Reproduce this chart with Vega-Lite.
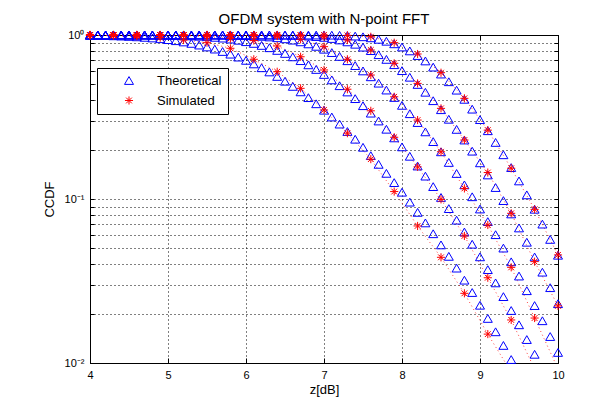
{
"$schema":"https://vega.github.io/schema/vega-lite/v6.json",
"width":468,"height":328,
"autosize":"none",
"padding":{"left":90,"top":35,"right":55,"bottom":44},
"background":"white",
"title":{"text":"OFDM system with N-point FFT","fontSize":15,"font":"Liberation Sans","fontWeight":"normal","color":"#000","offset":-10,"baseline":"alphabetic"},
"config":{
"view":{"stroke":"#000","strokeWidth":1},
"axis":{"domainColor":"#000","tickColor":"#000","labelColor":"#000","titleColor":"#000","labelFont":"Liberation Sans","titleFont":"Liberation Sans","labelFontSize":11,"titleFontSize":13,"titleFontWeight":"normal","gridColor":"#000","gridDash":[1,3],"gridOpacity":1,"gridWidth":1,"labelOverlap":false,"labelFlush":false},
"legend":{"labelFont":"Liberation Sans","labelFontSize":13,"labelColor":"#000"}
},
"data":{"values":[
{"t":"Theoretical","n":64,"x":4.0,"y":0.9955},{"t":"Theoretical","n":64,"x":4.1,"y":0.9939},{"t":"Theoretical","n":64,"x":4.2,"y":0.9917},{"t":"Theoretical","n":64,"x":4.3,"y":0.9888},{"t":"Theoretical","n":64,"x":4.4,"y":0.9851},{"t":"Theoretical","n":64,"x":4.5,"y":0.9805},{"t":"Theoretical","n":64,"x":4.6,"y":0.9748},{"t":"Theoretical","n":64,"x":4.7,"y":0.9678},{"t":"Theoretical","n":64,"x":4.8,"y":0.9593},{"t":"Theoretical","n":64,"x":4.9,"y":0.9492},
{"t":"Theoretical","n":64,"x":5.0,"y":0.9372},{"t":"Theoretical","n":64,"x":5.1,"y":0.9233},{"t":"Theoretical","n":64,"x":5.2,"y":0.9072},{"t":"Theoretical","n":64,"x":5.3,"y":0.889},{"t":"Theoretical","n":64,"x":5.4,"y":0.8685},{"t":"Theoretical","n":64,"x":5.5,"y":0.8457},{"t":"Theoretical","n":64,"x":5.6,"y":0.8207},{"t":"Theoretical","n":64,"x":5.7,"y":0.7935},{"t":"Theoretical","n":64,"x":5.8,"y":0.7643},{"t":"Theoretical","n":64,"x":5.9,"y":0.7333},
{"t":"Theoretical","n":64,"x":6.0,"y":0.7006},{"t":"Theoretical","n":64,"x":6.1,"y":0.6665},{"t":"Theoretical","n":64,"x":6.2,"y":0.6314},{"t":"Theoretical","n":64,"x":6.3,"y":0.5955},{"t":"Theoretical","n":64,"x":6.4,"y":0.559},{"t":"Theoretical","n":64,"x":6.5,"y":0.5225},{"t":"Theoretical","n":64,"x":6.6,"y":0.4861},{"t":"Theoretical","n":64,"x":6.7,"y":0.4502},{"t":"Theoretical","n":64,"x":6.8,"y":0.415},{"t":"Theoretical","n":64,"x":6.9,"y":0.3808},
{"t":"Theoretical","n":64,"x":7.0,"y":0.3479},{"t":"Theoretical","n":64,"x":7.1,"y":0.3163},{"t":"Theoretical","n":64,"x":7.2,"y":0.2863},{"t":"Theoretical","n":64,"x":7.3,"y":0.258},{"t":"Theoretical","n":64,"x":7.4,"y":0.2315},{"t":"Theoretical","n":64,"x":7.5,"y":0.2067},{"t":"Theoretical","n":64,"x":7.6,"y":0.1838},{"t":"Theoretical","n":64,"x":7.7,"y":0.1627},{"t":"Theoretical","n":64,"x":7.8,"y":0.1434},{"t":"Theoretical","n":64,"x":7.9,"y":0.1259},
{"t":"Theoretical","n":64,"x":8.0,"y":0.11},{"t":"Theoretical","n":64,"x":8.1,"y":0.0957},{"t":"Theoretical","n":64,"x":8.2,"y":0.0829},{"t":"Theoretical","n":64,"x":8.3,"y":0.0715},{"t":"Theoretical","n":64,"x":8.4,"y":0.0614},{"t":"Theoretical","n":64,"x":8.5,"y":0.0525},{"t":"Theoretical","n":64,"x":8.6,"y":0.0447},{"t":"Theoretical","n":64,"x":8.7,"y":0.0379},{"t":"Theoretical","n":64,"x":8.8,"y":0.032},{"t":"Theoretical","n":64,"x":8.9,"y":0.0269},
{"t":"Theoretical","n":64,"x":9.0,"y":0.0225},{"t":"Theoretical","n":64,"x":9.1,"y":0.0187},{"t":"Theoretical","n":64,"x":9.2,"y":0.0155},{"t":"Theoretical","n":64,"x":9.3,"y":0.0128},{"t":"Theoretical","n":64,"x":9.4,"y":0.0105},
{"t":"Theoretical","n":128,"x":4.0,"y":1},{"t":"Theoretical","n":128,"x":4.1,"y":1},{"t":"Theoretical","n":128,"x":4.2,"y":0.9999},{"t":"Theoretical","n":128,"x":4.3,"y":0.9999},{"t":"Theoretical","n":128,"x":4.4,"y":0.9998},{"t":"Theoretical","n":128,"x":4.5,"y":0.9996},{"t":"Theoretical","n":128,"x":4.6,"y":0.9994},{"t":"Theoretical","n":128,"x":4.7,"y":0.999},{"t":"Theoretical","n":128,"x":4.8,"y":0.9983},{"t":"Theoretical","n":128,"x":4.9,"y":0.9974},
{"t":"Theoretical","n":128,"x":5.0,"y":0.9961},{"t":"Theoretical","n":128,"x":5.1,"y":0.9941},{"t":"Theoretical","n":128,"x":5.2,"y":0.9914},{"t":"Theoretical","n":128,"x":5.3,"y":0.9877},{"t":"Theoretical","n":128,"x":5.4,"y":0.9827},{"t":"Theoretical","n":128,"x":5.5,"y":0.9762},{"t":"Theoretical","n":128,"x":5.6,"y":0.9678},{"t":"Theoretical","n":128,"x":5.7,"y":0.9574},{"t":"Theoretical","n":128,"x":5.8,"y":0.9445},{"t":"Theoretical","n":128,"x":5.9,"y":0.9289},
{"t":"Theoretical","n":128,"x":6.0,"y":0.9103},{"t":"Theoretical","n":128,"x":6.1,"y":0.8888},{"t":"Theoretical","n":128,"x":6.2,"y":0.8641},{"t":"Theoretical","n":128,"x":6.3,"y":0.8363},{"t":"Theoretical","n":128,"x":6.4,"y":0.8055},{"t":"Theoretical","n":128,"x":6.5,"y":0.772},{"t":"Theoretical","n":128,"x":6.6,"y":0.7359},{"t":"Theoretical","n":128,"x":6.7,"y":0.6977},{"t":"Theoretical","n":128,"x":6.8,"y":0.6578},{"t":"Theoretical","n":128,"x":6.9,"y":0.6166},
{"t":"Theoretical","n":128,"x":7.0,"y":0.5747},{"t":"Theoretical","n":128,"x":7.1,"y":0.5326},{"t":"Theoretical","n":128,"x":7.2,"y":0.4907},{"t":"Theoretical","n":128,"x":7.3,"y":0.4494},{"t":"Theoretical","n":128,"x":7.4,"y":0.4093},{"t":"Theoretical","n":128,"x":7.5,"y":0.3707},{"t":"Theoretical","n":128,"x":7.6,"y":0.3338},{"t":"Theoretical","n":128,"x":7.7,"y":0.299},{"t":"Theoretical","n":128,"x":7.8,"y":0.2663},{"t":"Theoretical","n":128,"x":7.9,"y":0.2359},
{"t":"Theoretical","n":128,"x":8.0,"y":0.2079},{"t":"Theoretical","n":128,"x":8.1,"y":0.1822},{"t":"Theoretical","n":128,"x":8.2,"y":0.1589},{"t":"Theoretical","n":128,"x":8.3,"y":0.1379},{"t":"Theoretical","n":128,"x":8.4,"y":0.119},{"t":"Theoretical","n":128,"x":8.5,"y":0.1022},{"t":"Theoretical","n":128,"x":8.6,"y":0.0874},{"t":"Theoretical","n":128,"x":8.7,"y":0.0743},{"t":"Theoretical","n":128,"x":8.8,"y":0.0629},{"t":"Theoretical","n":128,"x":8.9,"y":0.053},
{"t":"Theoretical","n":128,"x":9.0,"y":0.0444},{"t":"Theoretical","n":128,"x":9.1,"y":0.0371},{"t":"Theoretical","n":128,"x":9.2,"y":0.0308},{"t":"Theoretical","n":128,"x":9.3,"y":0.0254},{"t":"Theoretical","n":128,"x":9.4,"y":0.0209},{"t":"Theoretical","n":128,"x":9.5,"y":0.0171},{"t":"Theoretical","n":128,"x":9.6,"y":0.0139},{"t":"Theoretical","n":128,"x":9.7,"y":0.0113},
{"t":"Theoretical","n":256,"x":4.0,"y":1},{"t":"Theoretical","n":256,"x":4.1,"y":1},{"t":"Theoretical","n":256,"x":4.2,"y":1},{"t":"Theoretical","n":256,"x":4.3,"y":1},{"t":"Theoretical","n":256,"x":4.4,"y":1},{"t":"Theoretical","n":256,"x":4.5,"y":1},{"t":"Theoretical","n":256,"x":4.6,"y":1},{"t":"Theoretical","n":256,"x":4.7,"y":1},{"t":"Theoretical","n":256,"x":4.8,"y":1},{"t":"Theoretical","n":256,"x":4.9,"y":1},
{"t":"Theoretical","n":256,"x":5.0,"y":1},{"t":"Theoretical","n":256,"x":5.1,"y":1},{"t":"Theoretical","n":256,"x":5.2,"y":0.9999},{"t":"Theoretical","n":256,"x":5.3,"y":0.9998},{"t":"Theoretical","n":256,"x":5.4,"y":0.9997},{"t":"Theoretical","n":256,"x":5.5,"y":0.9994},{"t":"Theoretical","n":256,"x":5.6,"y":0.999},{"t":"Theoretical","n":256,"x":5.7,"y":0.9982},{"t":"Theoretical","n":256,"x":5.8,"y":0.9969},{"t":"Theoretical","n":256,"x":5.9,"y":0.9949},
{"t":"Theoretical","n":256,"x":6.0,"y":0.992},{"t":"Theoretical","n":256,"x":6.1,"y":0.9876},{"t":"Theoretical","n":256,"x":6.2,"y":0.9815},{"t":"Theoretical","n":256,"x":6.3,"y":0.9732},{"t":"Theoretical","n":256,"x":6.4,"y":0.9622},{"t":"Theoretical","n":256,"x":6.5,"y":0.948},{"t":"Theoretical","n":256,"x":6.6,"y":0.9303},{"t":"Theoretical","n":256,"x":6.7,"y":0.9086},{"t":"Theoretical","n":256,"x":6.8,"y":0.8829},{"t":"Theoretical","n":256,"x":6.9,"y":0.853},
{"t":"Theoretical","n":256,"x":7.0,"y":0.8191},{"t":"Theoretical","n":256,"x":7.1,"y":0.7815},{"t":"Theoretical","n":256,"x":7.2,"y":0.7406},{"t":"Theoretical","n":256,"x":7.3,"y":0.6969},{"t":"Theoretical","n":256,"x":7.4,"y":0.6511},{"t":"Theoretical","n":256,"x":7.5,"y":0.604},{"t":"Theoretical","n":256,"x":7.6,"y":0.5562},{"t":"Theoretical","n":256,"x":7.7,"y":0.5086},{"t":"Theoretical","n":256,"x":7.8,"y":0.4617},{"t":"Theoretical","n":256,"x":7.9,"y":0.4161},
{"t":"Theoretical","n":256,"x":8.0,"y":0.3725},{"t":"Theoretical","n":256,"x":8.1,"y":0.3312},{"t":"Theoretical","n":256,"x":8.2,"y":0.2926},{"t":"Theoretical","n":256,"x":8.3,"y":0.2567},{"t":"Theoretical","n":256,"x":8.4,"y":0.2239},{"t":"Theoretical","n":256,"x":8.5,"y":0.194},{"t":"Theoretical","n":256,"x":8.6,"y":0.1671},{"t":"Theoretical","n":256,"x":8.7,"y":0.1431},{"t":"Theoretical","n":256,"x":8.8,"y":0.1219},{"t":"Theoretical","n":256,"x":8.9,"y":0.1032},
{"t":"Theoretical","n":256,"x":9.0,"y":0.0869},{"t":"Theoretical","n":256,"x":9.1,"y":0.0728},{"t":"Theoretical","n":256,"x":9.2,"y":0.0606},{"t":"Theoretical","n":256,"x":9.3,"y":0.0502},{"t":"Theoretical","n":256,"x":9.4,"y":0.0414},{"t":"Theoretical","n":256,"x":9.5,"y":0.0339},{"t":"Theoretical","n":256,"x":9.6,"y":0.0276},{"t":"Theoretical","n":256,"x":9.7,"y":0.0224},{"t":"Theoretical","n":256,"x":9.8,"y":0.0181},{"t":"Theoretical","n":256,"x":9.9,"y":0.0145},{"t":"Theoretical","n":256,"x":10.0,"y":0.0116},
{"t":"Theoretical","n":512,"x":4.0,"y":1},{"t":"Theoretical","n":512,"x":4.1,"y":1},{"t":"Theoretical","n":512,"x":4.2,"y":1},{"t":"Theoretical","n":512,"x":4.3,"y":1},{"t":"Theoretical","n":512,"x":4.4,"y":1},{"t":"Theoretical","n":512,"x":4.5,"y":1},{"t":"Theoretical","n":512,"x":4.6,"y":1},{"t":"Theoretical","n":512,"x":4.7,"y":1},{"t":"Theoretical","n":512,"x":4.8,"y":1},{"t":"Theoretical","n":512,"x":4.9,"y":1},
{"t":"Theoretical","n":512,"x":5.0,"y":1},{"t":"Theoretical","n":512,"x":5.1,"y":1},{"t":"Theoretical","n":512,"x":5.2,"y":1},{"t":"Theoretical","n":512,"x":5.3,"y":1},{"t":"Theoretical","n":512,"x":5.4,"y":1},{"t":"Theoretical","n":512,"x":5.5,"y":1},{"t":"Theoretical","n":512,"x":5.6,"y":1},{"t":"Theoretical","n":512,"x":5.7,"y":1},{"t":"Theoretical","n":512,"x":5.8,"y":1},{"t":"Theoretical","n":512,"x":5.9,"y":1},
{"t":"Theoretical","n":512,"x":6.0,"y":0.9999},{"t":"Theoretical","n":512,"x":6.1,"y":0.9998},{"t":"Theoretical","n":512,"x":6.2,"y":0.9997},{"t":"Theoretical","n":512,"x":6.3,"y":0.9993},{"t":"Theoretical","n":512,"x":6.4,"y":0.9986},{"t":"Theoretical","n":512,"x":6.5,"y":0.9973},{"t":"Theoretical","n":512,"x":6.6,"y":0.9951},{"t":"Theoretical","n":512,"x":6.7,"y":0.9916},{"t":"Theoretical","n":512,"x":6.8,"y":0.9863},{"t":"Theoretical","n":512,"x":6.9,"y":0.9784},
{"t":"Theoretical","n":512,"x":7.0,"y":0.9673},{"t":"Theoretical","n":512,"x":7.1,"y":0.9523},{"t":"Theoretical","n":512,"x":7.2,"y":0.9327},{"t":"Theoretical","n":512,"x":7.3,"y":0.9081},{"t":"Theoretical","n":512,"x":7.4,"y":0.8783},{"t":"Theoretical","n":512,"x":7.5,"y":0.8432},{"t":"Theoretical","n":512,"x":7.6,"y":0.803},{"t":"Theoretical","n":512,"x":7.7,"y":0.7585},{"t":"Theoretical","n":512,"x":7.8,"y":0.7102},{"t":"Theoretical","n":512,"x":7.9,"y":0.6591},
{"t":"Theoretical","n":512,"x":8.0,"y":0.6063},{"t":"Theoretical","n":512,"x":8.1,"y":0.5527},{"t":"Theoretical","n":512,"x":8.2,"y":0.4995},{"t":"Theoretical","n":512,"x":8.3,"y":0.4476},{"t":"Theoretical","n":512,"x":8.4,"y":0.3976},{"t":"Theoretical","n":512,"x":8.5,"y":0.3504},{"t":"Theoretical","n":512,"x":8.6,"y":0.3063},{"t":"Theoretical","n":512,"x":8.7,"y":0.2658},{"t":"Theoretical","n":512,"x":8.8,"y":0.2289},{"t":"Theoretical","n":512,"x":8.9,"y":0.1957},
{"t":"Theoretical","n":512,"x":9.0,"y":0.1662},{"t":"Theoretical","n":512,"x":9.1,"y":0.1402},{"t":"Theoretical","n":512,"x":9.2,"y":0.1175},{"t":"Theoretical","n":512,"x":9.3,"y":0.0978},{"t":"Theoretical","n":512,"x":9.4,"y":0.0811},{"t":"Theoretical","n":512,"x":9.5,"y":0.0666},{"t":"Theoretical","n":512,"x":9.6,"y":0.0545},{"t":"Theoretical","n":512,"x":9.7,"y":0.0443},{"t":"Theoretical","n":512,"x":9.8,"y":0.0358},{"t":"Theoretical","n":512,"x":9.9,"y":0.0288},{"t":"Theoretical","n":512,"x":10.0,"y":0.023},
{"t":"Theoretical","n":1024,"x":4.0,"y":1},{"t":"Theoretical","n":1024,"x":4.1,"y":1},{"t":"Theoretical","n":1024,"x":4.2,"y":1},{"t":"Theoretical","n":1024,"x":4.3,"y":1},{"t":"Theoretical","n":1024,"x":4.4,"y":1},{"t":"Theoretical","n":1024,"x":4.5,"y":1},{"t":"Theoretical","n":1024,"x":4.6,"y":1},{"t":"Theoretical","n":1024,"x":4.7,"y":1},{"t":"Theoretical","n":1024,"x":4.8,"y":1},{"t":"Theoretical","n":1024,"x":4.9,"y":1},
{"t":"Theoretical","n":1024,"x":5.0,"y":1},{"t":"Theoretical","n":1024,"x":5.1,"y":1},{"t":"Theoretical","n":1024,"x":5.2,"y":1},{"t":"Theoretical","n":1024,"x":5.3,"y":1},{"t":"Theoretical","n":1024,"x":5.4,"y":1},{"t":"Theoretical","n":1024,"x":5.5,"y":1},{"t":"Theoretical","n":1024,"x":5.6,"y":1},{"t":"Theoretical","n":1024,"x":5.7,"y":1},{"t":"Theoretical","n":1024,"x":5.8,"y":1},{"t":"Theoretical","n":1024,"x":5.9,"y":1},
{"t":"Theoretical","n":1024,"x":6.0,"y":1},{"t":"Theoretical","n":1024,"x":6.1,"y":1},{"t":"Theoretical","n":1024,"x":6.2,"y":1},{"t":"Theoretical","n":1024,"x":6.3,"y":1},{"t":"Theoretical","n":1024,"x":6.4,"y":1},{"t":"Theoretical","n":1024,"x":6.5,"y":1},{"t":"Theoretical","n":1024,"x":6.6,"y":1},{"t":"Theoretical","n":1024,"x":6.7,"y":1},{"t":"Theoretical","n":1024,"x":6.8,"y":0.9998},{"t":"Theoretical","n":1024,"x":6.9,"y":0.9995},
{"t":"Theoretical","n":1024,"x":7.0,"y":0.9989},{"t":"Theoretical","n":1024,"x":7.1,"y":0.9977},{"t":"Theoretical","n":1024,"x":7.2,"y":0.9955},{"t":"Theoretical","n":1024,"x":7.3,"y":0.9916},{"t":"Theoretical","n":1024,"x":7.4,"y":0.9852},{"t":"Theoretical","n":1024,"x":7.5,"y":0.9754},{"t":"Theoretical","n":1024,"x":7.6,"y":0.9612},{"t":"Theoretical","n":1024,"x":7.7,"y":0.9417},{"t":"Theoretical","n":1024,"x":7.8,"y":0.916},{"t":"Theoretical","n":1024,"x":7.9,"y":0.8838},
{"t":"Theoretical","n":1024,"x":8.0,"y":0.845},{"t":"Theoretical","n":1024,"x":8.1,"y":0.8},{"t":"Theoretical","n":1024,"x":8.2,"y":0.7495},{"t":"Theoretical","n":1024,"x":8.3,"y":0.6948},{"t":"Theoretical","n":1024,"x":8.4,"y":0.6372},{"t":"Theoretical","n":1024,"x":8.5,"y":0.578},{"t":"Theoretical","n":1024,"x":8.6,"y":0.5188},{"t":"Theoretical","n":1024,"x":8.7,"y":0.461},{"t":"Theoretical","n":1024,"x":8.8,"y":0.4054},{"t":"Theoretical","n":1024,"x":8.9,"y":0.3531},
{"t":"Theoretical","n":1024,"x":9.0,"y":0.3048},{"t":"Theoretical","n":1024,"x":9.1,"y":0.2608},{"t":"Theoretical","n":1024,"x":9.2,"y":0.2213},{"t":"Theoretical","n":1024,"x":9.3,"y":0.1861},{"t":"Theoretical","n":1024,"x":9.4,"y":0.1555},{"t":"Theoretical","n":1024,"x":9.5,"y":0.1289},{"t":"Theoretical","n":1024,"x":9.6,"y":0.106},{"t":"Theoretical","n":1024,"x":9.7,"y":0.0866},{"t":"Theoretical","n":1024,"x":9.8,"y":0.0703},{"t":"Theoretical","n":1024,"x":9.9,"y":0.0567},{"t":"Theoretical","n":1024,"x":10.0,"y":0.0454},
{"t":"Simulated","n":64,"x":4.0,"y":0.995},{"t":"Simulated","n":64,"x":4.3,"y":0.99},{"t":"Simulated","n":64,"x":4.6,"y":0.983},{"t":"Simulated","n":64,"x":4.9,"y":0.963},{"t":"Simulated","n":64,"x":5.2,"y":0.932},{"t":"Simulated","n":64,"x":5.5,"y":0.898},{"t":"Simulated","n":64,"x":5.8,"y":0.83},{"t":"Simulated","n":64,"x":6.1,"y":0.711},{"t":"Simulated","n":64,"x":6.4,"y":0.597},{"t":"Simulated","n":64,"x":6.7,"y":0.473},{"t":"Simulated","n":64,"x":7.0,"y":0.349},{"t":"Simulated","n":64,"x":7.3,"y":0.252},{"t":"Simulated","n":64,"x":7.6,"y":0.175},{"t":"Simulated","n":64,"x":7.9,"y":0.111},{"t":"Simulated","n":64,"x":8.2,"y":0.0685},{"t":"Simulated","n":64,"x":8.5,"y":0.0441},{"t":"Simulated","n":64,"x":8.8,"y":0.0266},{"t":"Simulated","n":64,"x":9.1,"y":0.015},{"t":"Simulated","n":64,"x":9.4,"y":0.0088},{"t":"Simulated","n":64,"x":9.7,"y":0.005},{"t":"Simulated","n":64,"x":10.0,"y":0.003},
{"t":"Simulated","n":128,"x":4.0,"y":1},{"t":"Simulated","n":128,"x":4.3,"y":1},{"t":"Simulated","n":128,"x":4.6,"y":1},{"t":"Simulated","n":128,"x":4.9,"y":0.998},{"t":"Simulated","n":128,"x":5.2,"y":0.993},{"t":"Simulated","n":128,"x":5.5,"y":0.98},{"t":"Simulated","n":128,"x":5.8,"y":0.95},{"t":"Simulated","n":128,"x":6.1,"y":0.925},{"t":"Simulated","n":128,"x":6.4,"y":0.857},{"t":"Simulated","n":128,"x":6.7,"y":0.737},{"t":"Simulated","n":128,"x":7.0,"y":0.612},{"t":"Simulated","n":128,"x":7.3,"y":0.467},{"t":"Simulated","n":128,"x":7.6,"y":0.345},{"t":"Simulated","n":128,"x":7.9,"y":0.238},{"t":"Simulated","n":128,"x":8.2,"y":0.157},{"t":"Simulated","n":128,"x":8.5,"y":0.0995},{"t":"Simulated","n":128,"x":8.8,"y":0.0595},{"t":"Simulated","n":128,"x":9.1,"y":0.0331},{"t":"Simulated","n":128,"x":9.4,"y":0.0183},{"t":"Simulated","n":128,"x":9.7,"y":0.0092},{"t":"Simulated","n":128,"x":10.0,"y":0.0045},
{"t":"Simulated","n":256,"x":4.0,"y":1},{"t":"Simulated","n":256,"x":4.3,"y":1},{"t":"Simulated","n":256,"x":4.6,"y":1},{"t":"Simulated","n":256,"x":4.9,"y":1},{"t":"Simulated","n":256,"x":5.2,"y":1},{"t":"Simulated","n":256,"x":5.5,"y":1},{"t":"Simulated","n":256,"x":5.8,"y":1},{"t":"Simulated","n":256,"x":6.1,"y":0.995},{"t":"Simulated","n":256,"x":6.4,"y":0.985},{"t":"Simulated","n":256,"x":6.7,"y":0.941},{"t":"Simulated","n":256,"x":7.0,"y":0.849},{"t":"Simulated","n":256,"x":7.3,"y":0.711},{"t":"Simulated","n":256,"x":7.6,"y":0.57},{"t":"Simulated","n":256,"x":7.9,"y":0.42},{"t":"Simulated","n":256,"x":8.2,"y":0.303},{"t":"Simulated","n":256,"x":8.5,"y":0.194},{"t":"Simulated","n":256,"x":8.8,"y":0.116},{"t":"Simulated","n":256,"x":9.1,"y":0.0694},{"t":"Simulated","n":256,"x":9.4,"y":0.0383},{"t":"Simulated","n":256,"x":9.7,"y":0.0188},{"t":"Simulated","n":256,"x":10.0,"y":0.0092},
{"t":"Simulated","n":512,"x":4.0,"y":1},{"t":"Simulated","n":512,"x":4.3,"y":1},{"t":"Simulated","n":512,"x":4.6,"y":1},{"t":"Simulated","n":512,"x":4.9,"y":1},{"t":"Simulated","n":512,"x":5.2,"y":1},{"t":"Simulated","n":512,"x":5.5,"y":1},{"t":"Simulated","n":512,"x":5.8,"y":1},{"t":"Simulated","n":512,"x":6.1,"y":1},{"t":"Simulated","n":512,"x":6.4,"y":1},{"t":"Simulated","n":512,"x":6.7,"y":0.995},{"t":"Simulated","n":512,"x":7.0,"y":0.975},{"t":"Simulated","n":512,"x":7.3,"y":0.932},{"t":"Simulated","n":512,"x":7.6,"y":0.81},{"t":"Simulated","n":512,"x":7.9,"y":0.672},{"t":"Simulated","n":512,"x":8.2,"y":0.507},{"t":"Simulated","n":512,"x":8.5,"y":0.357},{"t":"Simulated","n":512,"x":8.8,"y":0.229},{"t":"Simulated","n":512,"x":9.1,"y":0.145},{"t":"Simulated","n":512,"x":9.4,"y":0.0818},{"t":"Simulated","n":512,"x":9.7,"y":0.0415},{"t":"Simulated","n":512,"x":10.0,"y":0.0223},
{"t":"Simulated","n":1024,"x":4.0,"y":1},{"t":"Simulated","n":1024,"x":4.3,"y":1},{"t":"Simulated","n":1024,"x":4.6,"y":1},{"t":"Simulated","n":1024,"x":4.9,"y":1},{"t":"Simulated","n":1024,"x":5.2,"y":1},{"t":"Simulated","n":1024,"x":5.5,"y":1},{"t":"Simulated","n":1024,"x":5.8,"y":1},{"t":"Simulated","n":1024,"x":6.1,"y":1},{"t":"Simulated","n":1024,"x":6.4,"y":1},{"t":"Simulated","n":1024,"x":6.7,"y":1},{"t":"Simulated","n":1024,"x":7.0,"y":1},{"t":"Simulated","n":1024,"x":7.3,"y":0.995},{"t":"Simulated","n":1024,"x":7.6,"y":0.976},{"t":"Simulated","n":1024,"x":7.9,"y":0.898},{"t":"Simulated","n":1024,"x":8.2,"y":0.766},{"t":"Simulated","n":1024,"x":8.5,"y":0.589},{"t":"Simulated","n":1024,"x":8.8,"y":0.411},{"t":"Simulated","n":1024,"x":9.1,"y":0.263},{"t":"Simulated","n":1024,"x":9.4,"y":0.154},{"t":"Simulated","n":1024,"x":9.7,"y":0.0865},{"t":"Simulated","n":1024,"x":10.0,"y":0.0456}
]},
"layer":[
{
"transform":[{"filter":"datum.t == 'Simulated'"}],
"mark":{"type":"line","clip":true,"color":"#ff0000","strokeWidth":1,"strokeDash":[1,3],"opacity":0.75},
"encoding":{
"x":{"field":"x","type":"quantitative","scale":{"domain":[4,10],"nice":false,"zero":false},
"axis":{"orient":"bottom","values":[4,5,6,7,8,9,10],"format":"d","tickSize":-5,"labelPadding":11,"title":"z[dB]","titlePadding":3,"grid":true}},
"y":{"field":"y","type":"quantitative","scale":{"type":"log","domain":[0.01,1],"nice":false},
"axis":{"orient":"left","values":[0.01,0.02,0.03,0.04,0.05,0.06,0.07,0.08,0.09,0.1,0.2,0.3,0.4,0.5,0.6,0.7,0.8,0.9,1],"labelExpr":"datum.value == 1 ? '10⁰' : datum.value == 0.1 ? '10⁻¹' : datum.value == 0.01 ? '10⁻²' : ''","tickSize":-4,"labelPadding":10,"title":"CCDF","titlePadding":8,"grid":true}},
"detail":{"field":"n","type":"nominal"}
}
},
{
"transform":[{"filter":"datum.y >= 0.0099"}],
"mark":{"type":"point","clip":false,"filled":false,"strokeWidth":1,"size":81,"opacity":1},
"encoding":{
"x":{"field":"x","type":"quantitative","axis":{"orient":"top","values":[4,5,6,7,8,9,10],"labels":false,"tickSize":-5,"title":null,"grid":false}},
"y":{"field":"y","type":"quantitative","axis":{"orient":"right","values":[0.01,0.02,0.03,0.04,0.05,0.06,0.07,0.08,0.09,0.1,0.2,0.3,0.4,0.5,0.6,0.7,0.8,0.9,1],"labels":false,"tickSize":-4,"title":null,"grid":false}},
"shape":{"field":"t","type":"nominal","scale":{"domain":["Theoretical","Simulated"],"range":["triangle-up","M0,-0.9V0.9M-0.9,0H0.9M-0.64,-0.64L0.64,0.64M-0.64,0.64L0.64,-0.64"]},
"legend":{"title":null,"orient":"none","legendX":7,"legendY":33,"padding":6,"strokeColor":"#000","fillColor":"#fff","symbolOffset":19.5,"labelOffset":21.5,"rowPadding":6,"symbolSize":81,"symbolStrokeWidth":1,
"encode":{"symbols":{"shape":{"value":{"expr":"datum.value === 'Simulated' ? 'M-4.9,0h0.45M-4.23,0h0.45M-3.57,0h0.45M-2.9,0h0.45M-2.23,0h0.45M-1.57,0h0.45M1.35,0h0.45M2.02,0h0.45M2.68,0h0.45M3.35,0h0.45M4.02,0h0.45M0,-0.9V0.9M-0.9,0H0.9M-0.64,-0.64L0.64,0.64M-0.64,0.64L0.64,-0.64' : 'triangle-up'"}}}}}},
"color":{"field":"t","type":"nominal","scale":{"domain":["Theoretical","Simulated"],"range":["#0000ff","#ff0000"]}},
"order":{"field":"t","sort":"descending"}
}
}
],
"resolve":{"axis":{"x":"independent","y":"independent"}}
}
